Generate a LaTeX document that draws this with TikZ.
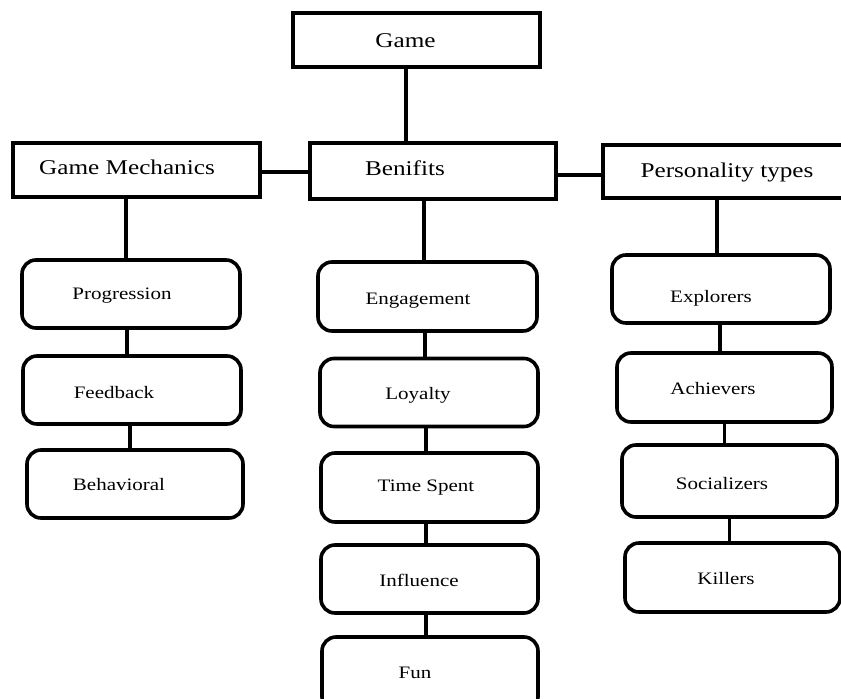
\documentclass[tikz,border=0pt]{standalone}
\usepackage{fontspec}
\setmainfont[FakeStretch=1.2]{Liberation Serif}
\begin{document}
\begin{tikzpicture}[x=1pt,y=-1pt,
  line width=3.6pt,
  every label/.style={inner sep=0pt, font=\fontsize{17.5}{21}\selectfont},
  headtext/.style={font=\fontsize{21}{25}\selectfont},
  headbox/.style={draw, rectangle, inner sep=0pt, label distance=0pt},
  itembox/.style={draw, rectangle, rounded corners=14pt, inner sep=0pt,
    minimum width=218pt, minimum height=68pt},
  link/.style={line width=3.6pt, line cap=butt}]
\useasboundingbox (0,0) rectangle (841,699);

% top level
\node[headbox, minimum width=247pt, minimum height=54pt,
  label={[headtext, xshift=-11pt, yshift=-1pt]center:Game}] (game) at (416.5,40) {};

% second level
\node[headbox, minimum width=247pt, minimum height=54pt,
  label={[headtext, xshift=-9.5pt, yshift=2.5pt]center:Game Mechanics}] (gm) at (136.5,170) {};
\node[headbox, minimum width=246pt, minimum height=56pt,
  label={[headtext, xshift=-28pt, yshift=3pt]center:Benifits}] (ben) at (433,171) {};
\node[headbox, minimum width=247pt, minimum height=53pt,
  label={[headtext, xshift=0.5pt, yshift=-0.5pt]center:Personality types}] (per) at (726.5,171.5) {};

% game mechanics column
\node[itembox, label={[xshift=-9pt, yshift=-2pt]center:Progression}] (prog) at (131,294) {};
\node[itembox, label={[xshift=-18pt, yshift=-2.5pt]center:Feedback}] (feed) at (132,390) {};
\node[itembox, minimum width=216pt, label={[xshift=-16pt, yshift=-1pt]center:Behavioral}] (beh) at (135,484) {};

% benefits column
\node[itembox, minimum width=219pt, minimum height=69pt,
  label={[xshift=-9.5pt, yshift=-4.5pt]center:Engagement}] (eng) at (427.5,296.5) {};
\node[itembox, label={[xshift=-11pt, yshift=-2.5pt]center:Loyalty}] (loy) at (429,392.5) {};
\node[itembox, minimum width=217pt, minimum height=69pt,
  label={[xshift=-3.5pt, yshift=-0.5pt]center:Time Spent}] (ts) at (429.5,487.5) {};
\node[itembox, minimum width=217pt,
  label={[xshift=-10.5pt, yshift=-1pt]center:Influence}] (inf) at (429.5,579) {};
\node[itembox, minimum width=216pt, minimum height=74pt,
  label={[xshift=-15pt, yshift=1pt]center:Fun}] (fun) at (430,674) {};

% personality types column
\node[itembox, label={[xshift=-10pt, yshift=-9pt]center:Explorers}] (expl) at (721,289) {};
\node[itembox, minimum width=215pt, minimum height=69pt,
  label={[xshift=-11.5pt, yshift=-1.5pt]center:Achievers}] (ach) at (724.5,387.5) {};
\node[itembox, minimum width=215pt, minimum height=72pt,
  label={[xshift=-7.5pt, yshift=-3pt]center:Socializers}] (soc) at (729.5,481) {};
\node[itembox, minimum width=215pt, minimum height=69pt,
  label={[xshift=-6.5pt, yshift=-1.5pt]center:Killers}] (kil) at (732.5,577.5) {};

% connectors between the headings
\draw[link] ([xshift=-10.5pt]game.south) -- ([xshift=-10.5pt]game.south |- ben.north);
\draw[link] ([yshift=-2pt]gm.east) -- ([yshift=-2pt]gm.east -| ben.west);
\draw[link] ([yshift=-4pt]ben.east) -- ([yshift=-4pt]ben.east -| per.west);

% connectors down each column
\draw[link] ([xshift=-10.5pt]gm.south) -- ([xshift=-10.5pt]gm.south |- prog.north);
\draw[link] ([xshift=-4pt]prog.south) -- ([xshift=-4pt]prog.south |- feed.north);
\draw[link] ([xshift=-2pt]feed.south) -- ([xshift=-2pt]feed.south |- beh.north);

\draw[link] ([xshift=-9pt]ben.south) -- ([xshift=-9pt]ben.south |- eng.north);
\draw[link] ([xshift=-2.5pt]eng.south) -- ([xshift=-2.5pt]eng.south |- loy.north);
\draw[link] ([xshift=-3pt]loy.south) -- ([xshift=-3pt]loy.south |- ts.north);
\draw[link] ([xshift=-3.5pt]ts.south) -- ([xshift=-3.5pt]ts.south |- inf.north);
\draw[link] ([xshift=-3.5pt]inf.south) -- ([xshift=-3.5pt]inf.south |- fun.north);

\draw[link] ([xshift=-9.5pt]per.south) -- ([xshift=-9.5pt]per.south |- expl.north);
\draw[link] ([xshift=-1pt]expl.south) -- ([xshift=-1pt]expl.south |- ach.north);
\draw[link] (ach.south) -- (ach.south |- soc.north);
\draw[link] (soc.south) -- (soc.south |- kil.north);
\end{tikzpicture}
\end{document}
